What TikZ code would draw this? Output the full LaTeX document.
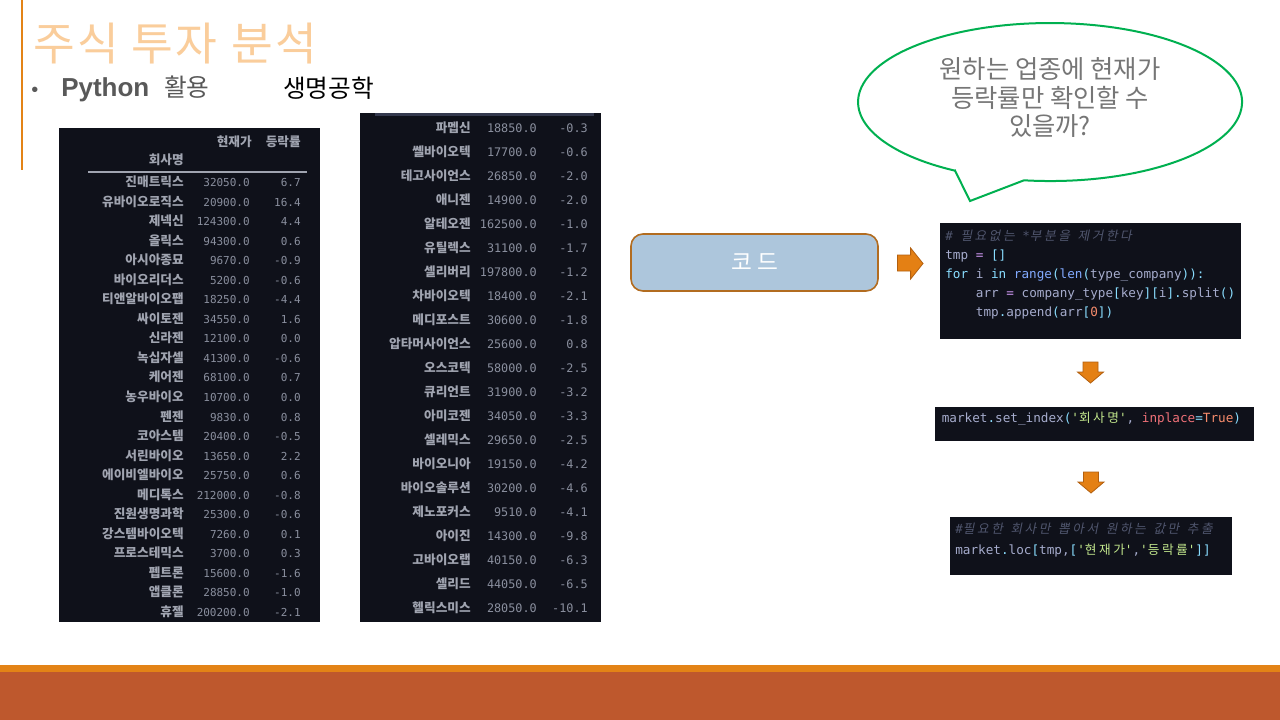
\documentclass[tikz,border=0pt]{standalone}
\usepackage{fontspec}
\setmainfont{Noto Sans CJK KR}
\newfontfamily\kr{Noto Sans CJK KR}
\newfontfamily\krt[LetterSpace=6]{Noto Sans CJK KR}
\newfontfamily\krc[LetterSpace=20]{Noto Sans CJK KR}
\newfontfamily\krcs[LetterSpace=20,FakeSlant=0.2]{Noto Sans CJK KR}
\newfontfamily\cf[Ligatures=TeXOff]{DejaVu Sans Mono}
\newfontfamily\arf{Liberation Sans}
\definecolor{bgdark}{RGB}{15,17,26}
\definecolor{tname}{RGB}{160,164,176}
\definecolor{tnum}{RGB}{138,143,158}
\definecolor{cdef}{RGB}{166,172,205}
\definecolor{ccom}{RGB}{80,86,110}
\definecolor{ccyan}{RGB}{137,221,255}
\definecolor{cpurp}{RGB}{199,146,234}
\definecolor{cblue}{RGB}{130,170,255}
\definecolor{corange}{RGB}{247,140,108}
\definecolor{cgreen}{RGB}{195,232,141}
\definecolor{cred}{RGB}{240,113,120}
\definecolor{titlecol}{RGB}{250,205,155}
\definecolor{darkgray}{RGB}{89,89,89}
\definecolor{bubtext}{RGB}{118,118,118}
\definecolor{bubgreen}{RGB}{0,176,80}
\definecolor{bandorange}{RGB}{227,131,22}
\definecolor{bandbrown}{RGB}{190,88,45}
\definecolor{boxfill}{RGB}{173,198,220}
\definecolor{boxline}{RGB}{178,108,32}
\definecolor{arrfill}{RGB}{228,128,20}
\definecolor{arrline}{RGB}{178,95,15}
\definecolor{topline}{RGB}{52,57,78}
\newcommand\cy[1]{\textcolor{ccyan}{#1}}
\newcommand\kq{{\char39}}
\begin{document}
\begin{tikzpicture}[x=0.75pt,y=-0.75pt,
  nm/.style={anchor=base east, inner sep=0, font=\kr\bfseries\fontsize{9.5}{11}\selectfont, text=tname},
  numl/.style={anchor=base east, inner sep=0, font=\cf\fontsize{8.25}{10}\selectfont, text=tnum},
  numm/.style={anchor=base east, inner sep=0, font=\cf\fontsize{8.85}{10}\selectfont, text=tnum},
  codeln/.style={anchor=base west, inner sep=0, font=\cf\fontsize{9.5}{11}\selectfont, text=cdef},
  bubln/.style={anchor=center, inner sep=0, font=\kr\fontsize{19}{22}\selectfont, text=bubtext},
  titleword/.style={anchor=base west, inner sep=0, text=titlecol, font=\krt\fontsize{34}{38}\selectfont},
  blockarrow/.style={fill=arrfill, draw=arrline, line width=0.6pt, line join=miter},
  darkpanel/.style={fill=bgdark, draw=none}]
\useasboundingbox (0,0) rectangle (1280,720);
\fill[white] (0,0) rectangle (1280,720);
% bands
\fill[bandorange] (0,665) rectangle (1280,672);
\fill[bandbrown] (0,672) rectangle (1280,720);
% vertical accent line
\draw[bandorange, line width=0.9pt] (22,0) -- (22,170);
% title
\node[titleword] (t1) at (33,61) {주식};
\node[titleword] (t2) at (131,61) {투자};
\node[titleword] (t3) at (231,61) {분석};
% bullet line
\node[anchor=base west, inner sep=0, text=darkgray, font=\arf\fontsize{15}{18}\selectfont] (bul) at (31,97) {•};
\node[anchor=base west, inner sep=0, text=darkgray, font=\arf\bfseries\fontsize{19.5}{22}\selectfont] (py) at (61,97) {Python};
\node[anchor=base west, inner sep=0, text=darkgray, font=\kr\fontsize{18.5}{22}\selectfont] (hw) at (164,97) {활용};
\node[anchor=base west, inner sep=0, text=black, font=\kr\fontsize{18.5}{22}\selectfont] (bio) at (283,98) {생명공학};
% left table
\fill[darkpanel] (59,128) rectangle (320,622);
\node[nm] (hcur) at (252,146.5) {현재가};
\node[nm] (hchg) at (301,146.5) {등락률};
\node[nm] (hco) at (184,165) {회사명};
\draw[tname, line width=0.8pt] (88,172) -- (307,172);
\foreach \n/\p/\c [count=\i from 0] in {진매트릭스/32050.0/6.7, 유바이오로직스/20900.0/16.4, 제넥신/124300.0/4.4, 올릭스/94300.0/0.6, 아시아종묘/9670.0/-0.9, 바이오리더스/5200.0/-0.6, 티앤알바이오팹/18250.0/-4.4, 싸이토젠/34550.0/1.6, 신라젠/12100.0/0.0, 녹십자셀/41300.0/-0.6, 케어젠/68100.0/0.7, 농우바이오/10700.0/0.0, 펜젠/9830.0/0.8, 코아스템/20400.0/-0.5, 서린바이오/13650.0/2.2, 에이비엘바이오/25750.0/0.6, 메디톡스/212000.0/-0.8, 진원생명과학/25300.0/-0.6, 강스템바이오텍/7260.0/0.1, 프로스테믹스/3700.0/0.3, 펩트론/15600.0/-1.6, 앱클론/28850.0/-1.0, 휴젤/200200.0/-2.1}{
  \pgfmathsetmacro\yy{182+19.545*\i+4.5}
  \node[nm] (ln\i) at (184,\yy) {\n};
  \node[numl] (lp\i) at (250,\yy) {\p};
  \node[numl] (lc\i) at (301,\yy) {\c};
}
% middle table
\fill[darkpanel] (360,113) rectangle (601,622);
\fill[topline] (375,113) rectangle (594,116.5);
\foreach \n/\p/\c [count=\i from 0] in {파멥신/18850.0/-0.3, 쎌바이오텍/17700.0/-0.6, 테고사이언스/26850.0/-2.0, 애니젠/14900.0/-2.0, 알테오젠/162500.0/-1.0, 유틸렉스/31100.0/-1.7, 셀리버리/197800.0/-1.2, 차바이오텍/18400.0/-2.1, 메디포스트/30600.0/-1.8, 압타머사이언스/25600.0/0.8, 오스코텍/58000.0/-2.5, 큐리언트/31900.0/-3.2, 아미코젠/34050.0/-3.3, 셀레믹스/29650.0/-2.5, 바이오니아/19150.0/-4.2, 바이오솔루션/30200.0/-4.6, 제노포커스/9510.0/-4.1, 아이진/14300.0/-9.8, 고바이오랩/40150.0/-6.3, 셀리드/44050.0/-6.5, 헬릭스미스/28050.0/-10.1}{
  \pgfmathsetmacro\yy{128+24*\i+4.5}
  \node[nm] (mn\i) at (471,\yy) {\n};
  \node[numm] (mp\i) at (537,\yy) {\p};
  \node[numm] (mc\i) at (588,\yy) {\c};
}
% speech bubble
\draw[bubgreen, line width=1.5pt, fill=white, line join=miter]
  (955,170.6) -- (970,201) -- (1024,180.3)
  arc[start angle=97.8, end angle=-240.3, x radius=192, y radius=79] -- cycle;
\node[bubln] (b1) at (1050,69) {원하는 업종에 현재가};
\node[bubln] (b2) at (1050,98) {등락률만 확인할 수};
\node[bubln] (b3) at (1050,126) {있을까?};
% code label box
\node[draw=boxline, fill=boxfill, line width=1.2pt, rounded corners=9pt, minimum width=247*0.75pt, minimum height=57*0.75pt, text=white, font=\kr\fontsize{17}{20}\selectfont] (code) at (754.5,262.5) {코 드};
% right arrow
\draw[blockarrow] (897.5,255) -- (910.6,255) -- (910.6,248) -- (923,263.5) -- (910.6,279) -- (910.6,271) -- (897.5,271) -- cycle;
% code panel 1
\fill[darkpanel] (940,223) rectangle (1241,339);
\node[codeln] (c1a) at (945,240.5) {\textcolor{ccom}{\itshape\#\ {\krcs 필요없는} *{\krcs 부분을} {\krcs 제거한다}}};
\node[codeln] (c1b) at (945,259) {tmp \textcolor{cpurp}{=} \cy{[]}};
\node[codeln] (c1c) at (945,278) {\cy{for} i \cy{in} \textcolor{cblue}{range}\cy{(}\textcolor{cblue}{len}\cy{(}type\_company\cy{)):}};
\node[codeln] (c1d) at (975.6,297) {arr \textcolor{cpurp}{=} company\_type\cy{[}key\cy{][}i\cy{].}split\cy{()}};
\node[codeln] (c1e) at (975.6,316) {tmp\cy{.}append\cy{(}arr\cy{[}\textcolor{corange}{0}\cy{])}};
% down arrow 1
\draw[blockarrow] (1083,362) -- (1098,362) -- (1098,372) -- (1103.5,372) -- (1090.5,383) -- (1077.5,372) -- (1083,372) -- cycle;
% code panel 2
\fill[darkpanel] (935,407) rectangle (1254,441);
\node[codeln] (c2a) at (941.5,422) {market\cy{.}set\_index\cy{(}\textcolor{cgreen}{\kq{\krc 회사명}\kq}, \textcolor{cred}{inplace}\cy{=}\textcolor{corange}{True}\cy{)}};
% down arrow 2
\draw[blockarrow] (1083.5,472) -- (1098.5,472) -- (1098.5,482) -- (1104,482) -- (1091,493) -- (1078,482) -- (1083.5,482) -- cycle;
% code panel 3
\fill[darkpanel] (950,517) rectangle (1232,575);
\node[codeln] (c3a) at (955,533) {\textcolor{ccom}{\itshape\#{\krcs 필요한} {\krcs 회사만} {\krcs 뽑아서} {\krcs 원하는} {\krcs 값만} {\krcs 추출}}};
\node[codeln] (c3b) at (955,554) {market\cy{.}loc\cy{[}tmp,\cy{[}\textcolor{cgreen}{\kq{\krc 현재가}\kq},\textcolor{cgreen}{\kq{\krc 등락률}\kq}\cy{]]}};
\end{tikzpicture}
\end{document}
